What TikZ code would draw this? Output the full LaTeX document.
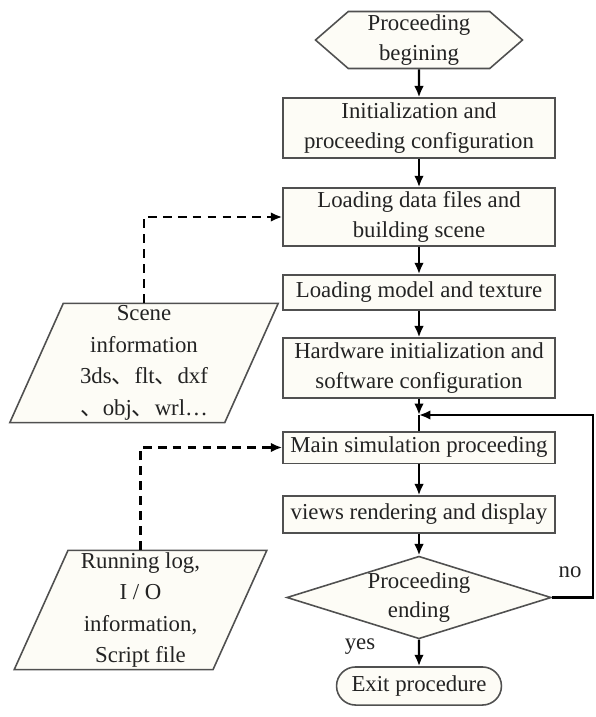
\documentclass[tikz,border=0pt]{standalone}
\usepackage{fontspec}
\setmainfont{Liberation Serif}
\newfontfamily\cjk{Noto Sans CJK SC}
\usetikzlibrary{shapes.geometric,shapes.misc,shapes.symbols,arrows.meta}
\definecolor{paper}{RGB}{253,252,246}
\definecolor{edge}{RGB}{80,80,80}
\definecolor{ink}{RGB}{35,35,35}
\newcommand{\dun}{{\cjk 、}}

\begin{document}
\begin{tikzpicture}[x=0.57pt,y=-0.57pt,>={Latex[length=6.5pt,width=5.5pt]},font=\fontsize{13}{17}\selectfont]
		\tikzstyle{proc}=[draw=edge,fill=paper,line width=0.9pt,shape=rectangle,minimum width=155pt,align=center,inner sep=2pt,text=ink]
		\tikzstyle{start}=[draw=edge,fill=paper,line width=0.9pt,shape=signal,signal to=east and west,signal pointer angle=82,minimum width=118pt,minimum height=32.5pt,inner sep=0pt,align=center,text=ink]
		\tikzstyle{decide}=[draw=edge,fill=paper,line width=0.9pt,shape=diamond,aspect=3.2,minimum width=144pt,minimum height=45pt,inner sep=0pt,align=center,text=ink]
		\tikzstyle{stop}=[draw=edge,fill=paper,line width=0.9pt,shape=rounded rectangle,minimum width=98pt,minimum height=21.7pt,inner sep=2pt,text=ink]
		\tikzstyle{data}=[draw=edge,fill=paper,line width=0.9pt,shape=trapezium,trapezium left angle=65,trapezium right angle=115,trapezium stretches body,minimum height=68pt,inner sep=0pt,align=center,text=ink,font=\fontsize{13}{18}\selectfont]
		\tikzstyle{arrow}=[->,line width=1.4pt,black]
		\tikzstyle{feed}=[->,line width=1.4pt,black,dash pattern=on 5pt off 3.5pt]
		\tikzstyle{lbl}=[text=ink,inner sep=1pt]

		\useasboundingbox (0,0) rectangle (595,717);

		\node[start](p0) at (419,40){Proceeding\\begining};
		\node[proc,minimum height=34pt](p1) at (419,128){Initialization and\\proceeding configuration};
		\node[proc,minimum height=33pt](p2) at (419,217){Loading data files and\\building scene};
		\node[proc,minimum height=20pt](p3) at (419,292.5){Loading model and texture};
		\node[proc,minimum height=34pt](p4) at (419,368){Hardware initialization and\\software configuration};
		\node[proc,minimum height=18pt](p5) at (419,447.5){Main simulation proceeding};
		\node[proc,minimum height=21pt](p6) at (419,514.5){views rendering and display};
		\node[decide](p7) at (419,597.5){Proceeding\\ending};
		\node[stop](p8) at (419,686){Exit procedure};

		\node[data,minimum width=153pt](scene) at (144,363){Scene\\information\\3ds\dun flt\dun dxf\\\dun obj\dun wrl\ldots};
		\node[data,minimum width=144pt](log) at (140.5,610){Running log,\\I / O\\information,\\Script file};

		\coordinate (merge) at (419,415);
		\coordinate (loopR) at (593,597.5);

		\foreach \i/\j in {0/1,1/2,2/3,3/4,5/6,6/7,7/8}
		{
		  \draw[arrow] (p\i) -- (p\j);
		}
		\draw[arrow] (p4) -- (merge);
		\draw[line width=1.4pt] (merge) -- (p5);
		\draw[arrow] (p7.east) -- (loopR) |- (merge);

		\draw[feed] (scene.north) |- (p2.west);
		\draw[feed] (log.north) |- (p5.west);

		\node[lbl](yes) at (360,647){yes};
		\node[lbl](no) at (570,572){no};
\end{tikzpicture}
\end{document}
